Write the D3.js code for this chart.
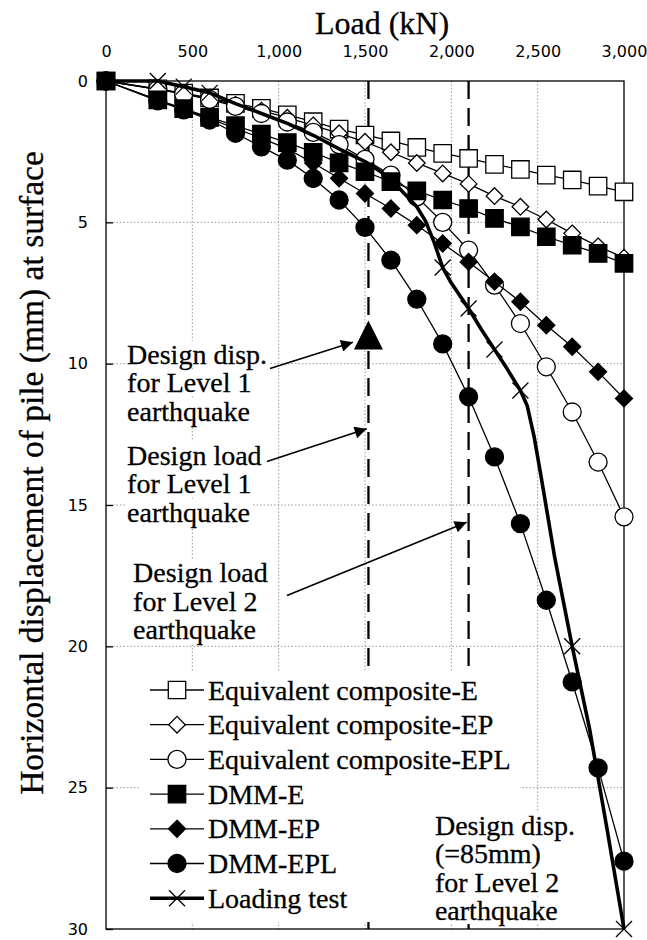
<!DOCTYPE html>
<html>
<head>
<meta charset="utf-8">
<script src="https://cdn.jsdelivr.net/npm/d3@7"></script>
<style>
  html, body { margin: 0; padding: 0; background: #fff; }
  svg { display: block; }
</style>
</head>
<body>
<svg id="chart" width="647" height="940"></svg>
<script>
// ---- data ---------------------------------------------------------------
// Load steps (kN) shared by all analysis series
const loadSteps = [0, 300, 450, 600, 750, 900, 1050, 1200, 1350, 1500, 1650, 1800, 1950, 2100, 2250, 2400, 2550, 2700, 2850, 3000];

// Horizontal displacement at surface (mm) for each analysis model
const eqCompE   = [0, 0.28, 0.43, 0.60, 0.79, 0.97, 1.20, 1.44, 1.70, 1.91, 2.12, 2.35, 2.56, 2.74, 2.95, 3.13, 3.33, 3.50, 3.72, 3.92];
const eqCompEP  = [0, 0.30, 0.45, 0.63, 0.84, 1.05, 1.30, 1.57, 1.85, 2.15, 2.52, 2.90, 3.27, 3.64, 4.07, 4.45, 4.90, 5.39, 5.85, 6.25];
const eqCompEPL = [0, 0.30, 0.46, 0.65, 0.90, 1.15, 1.45, 1.82, 2.25, 2.77, 3.33, 4.10, 5.00, 5.98, 7.22, 8.58, 10.11, 11.71, 13.48, 15.42];
const dmmE      = [0, 0.67, 0.98, 1.29, 1.58, 1.88, 2.18, 2.52, 2.90, 3.21, 3.56, 3.89, 4.21, 4.51, 4.86, 5.16, 5.51, 5.81, 6.10, 6.45];
const dmmEP     = [0, 0.68, 1.00, 1.33, 1.68, 2.02, 2.40, 2.90, 3.44, 3.98, 4.51, 5.10, 5.75, 6.40, 7.10, 7.81, 8.64, 9.40, 10.29, 11.23];
const dmmEPL    = [0, 0.70, 1.02, 1.38, 1.85, 2.33, 2.80, 3.45, 4.21, 5.18, 6.34, 7.72, 9.30, 11.17, 13.30, 15.66, 18.37, 21.26, 24.30, 27.60];

// Field loading test: measured curve and the loads carrying a marker
const testLoads = [0, 300, 450, 600, 750, 900, 1050, 1200, 1350, 1500, 1600, 1700, 1800, 1850, 1900, 1950, 2000, 2050, 2100, 2175, 2250, 2325, 2400, 2440, 2480, 2520, 2600, 2700, 2800, 2900, 3000];
const testDisp  = [0, 0, 0.20, 0.42, 0.80, 1.15, 1.50, 1.92, 2.40, 2.85, 3.25, 3.80, 4.45, 4.95, 5.70, 6.60, 7.15, 7.60, 8.05, 8.80, 9.50, 10.20, 10.95, 11.50, 12.60, 14.00, 16.90, 20.00, 22.90, 26.40, 30.00];
const testMarkerLoads = [300, 450, 600, 1950, 2100, 2250, 2400, 2700, 3000];

// Axis ticks
const xTicks = [0, 500, 1000, 1500, 2000, 2500, 3000];
const yTicks = [0, 5, 10, 15, 20, 25, 30];

// Design values
const designLoads = [1520, 2100];          // Level 1 and Level 2 design loads (kN)
const level1DispLoad = [1520];             // triangle marker position (kN)
const level1DispValue = [9.0];             // design displacement, Level 1 (mm)

// Series names in legend order
const seriesNames = ["Equivalent composite-E", "Equivalent composite-EP", "Equivalent composite-EPL", "DMM-E", "DMM-EP", "DMM-EPL", "Loading test"];

// ---- layout -------------------------------------------------------------
const svg = d3.select("#chart");
const x = d3.scaleLinear().domain([0, 3000]).range([106, 624]);
const y = d3.scaleLinear().domain([0, 30]).range([81, 929]);
const serif = "'Liberation Serif', 'Times New Roman', serif";
const sans = "'DejaVu Sans', sans-serif";

const gGrid = svg.append("g");
const gDash = svg.append("g");
const gBoxes = svg.append("g");
const gFrame = svg.append("g");
const gSeries = svg.append("g");
const gAnno = svg.append("g");

// Dotted grid
gGrid.selectAll("line.v").data(xTicks.slice(1, -1)).join("line")
  .attr("x1", d => x(d)).attr("x2", d => x(d))
  .attr("y1", y(0)).attr("y2", y(30))
  .attr("stroke", "#9a9a9a").attr("stroke-width", 1).attr("stroke-dasharray", "1.5,2");
gGrid.selectAll("line.h").data(yTicks.slice(1, -1)).join("line")
  .attr("x1", x(0)).attr("x2", x(3000))
  .attr("y1", d => y(d)).attr("y2", d => y(d))
  .attr("stroke", "#9a9a9a").attr("stroke-width", 1).attr("stroke-dasharray", "1.5,2");

// Design load lines
gDash.selectAll("line").data(designLoads).join("line")
  .attr("x1", d => x(d)).attr("x2", d => x(d))
  .attr("y1", y(0)).attr("y2", y(30))
  .attr("stroke", "#000").attr("stroke-width", 2.3).attr("stroke-dasharray", "18,9");

// Frame and axes
gFrame.append("rect")
  .attr("x", x(0)).attr("y", y(0))
  .attr("width", x(3000) - x(0)).attr("height", y(30) - y(0))
  .attr("fill", "none").attr("stroke", "#000").attr("stroke-width", 1.3);

const xAxis = gFrame.append("g").attr("transform", `translate(0,${y(0)})`)
  .call(d3.axisTop(x).tickValues(xTicks).tickFormat(d3.format(",")).tickSize(0).tickPadding(24));
const yAxis = gFrame.append("g").attr("transform", `translate(${x(0)},0)`)
  .call(d3.axisLeft(y).tickValues(yTicks).tickFormat(d3.format("d")).tickSize(-7).tickPadding(18));
[xAxis, yAxis].forEach(a => {
  a.select(".domain").remove();
  a.selectAll("text").attr("font-family", sans).attr("font-size", 16).attr("fill", "#000");
  a.selectAll("line").attr("stroke", "#000").attr("stroke-width", 1.3);
});

// Axis titles
const titleStyle = sel => sel.attr("font-family", serif).attr("fill", "#000")
  .attr("stroke", "#000").attr("stroke-width", 0.3);
svg.append("text").attr("x", 382).attr("y", 34).attr("text-anchor", "middle")
  .attr("font-size", 32).call(titleStyle).text("Load (kN)");
svg.append("text").attr("transform", "translate(43,473) rotate(-90)").attr("text-anchor", "middle")
  .attr("font-size", 33.5).call(titleStyle).text("Horizontal displacement of pile (mm) at surface");

// ---- markers ------------------------------------------------------------
function markerPath(type, r) {
  switch (type) {
    case "square": return `M${-r},${-r}H${r}V${r}H${-r}Z`;
    case "diamond": return `M0,${-r}L${r},0L0,${r}L${-r},0Z`;
    case "circle": return d3.symbol(d3.symbolCircle, Math.PI * r * r)();
    case "cross": return `M${-r},${-r}L${r},${r}M${-r},${r}L${r},${-r}`;
  }
}

const series = [
  { name: seriesNames[0], loads: loadSteps, values: eqCompE,   type: "square",  r: 8.7, fill: "#fff", width: 1.3 },
  { name: seriesNames[1], loads: loadSteps, values: eqCompEP,  type: "diamond", r: 8.3, fill: "#fff", width: 1.3 },
  { name: seriesNames[2], loads: loadSteps, values: eqCompEPL, type: "circle",  r: 9,   fill: "#fff", width: 1.3 },
  { name: seriesNames[3], loads: loadSteps, values: dmmE,      type: "square",  r: 8.7, fill: "#000", width: 1.3 },
  { name: seriesNames[4], loads: loadSteps, values: dmmEP,     type: "diamond", r: 8.5, fill: "#000", width: 1.3 },
  { name: seriesNames[5], loads: loadSteps, values: dmmEPL,    type: "circle",  r: 9,   fill: "#000", width: 1.3 },
  { name: seriesNames[6], loads: testLoads, values: testDisp,  type: "cross",   r: 8,   fill: "none", width: 3.6,
    markerLoads: testMarkerLoads }
];

const line = d3.line().x(d => x(d[0])).y(d => y(d[1]));

series.forEach(s => {
  const pts = s.loads.map((l, i) => [l, s.values[i]]);
  const g = gSeries.append("g");
  g.append("path").attr("d", line(pts)).attr("fill", "none")
    .attr("stroke", "#000").attr("stroke-width", s.width).attr("stroke-linejoin", "round");
  const marks = s.markerLoads ? pts.filter(p => s.markerLoads.includes(p[0])) : pts;
  g.selectAll("path.m").data(marks).join("path").attr("class", "m")
    .attr("transform", d => `translate(${x(d[0])},${y(d[1])})`)
    .attr("d", markerPath(s.type, s.r))
    .attr("fill", s.fill).attr("stroke", "#000").attr("stroke-width", 1.3);
});

// Level 1 design displacement marker
gSeries.selectAll("path.tri").data(level1DispLoad.map((l, i) => [l, level1DispValue[i]])).join("path")
  .attr("class", "tri")
  .attr("transform", d => `translate(${x(d[0])},${y(d[1])})`)
  .attr("d", "M0,-15L14.5,14L-14.5,14Z").attr("fill", "#000");

// ---- annotations --------------------------------------------------------
svg.append("defs").append("marker")
  .attr("id", "arrowhead").attr("viewBox", "0 0 10 10")
  .attr("refX", 10).attr("refY", 5)
  .attr("markerUnits", "userSpaceOnUse").attr("markerWidth", 16).attr("markerHeight", 12)
  .attr("orient", "auto")
  .append("path").attr("d", "M0,0L10,5L0,10Z").attr("fill", "#000");

// text blocks: left edge (kN), first baseline (mm), lines
const noteBlocks = [
  { load: 122, disp: 10.0,  lines: ["Design disp.", "for Level 1", "earthquake"] },
  { load: 122, disp: 13.57, lines: ["Design load", "for Level 1", "earthquake"] },
  { load: 157, disp: 17.73, lines: ["Design load", "for Level 2", "earthquake"] },
  { load: 1905, disp: 26.66, lines: ["Design disp.", "(=85mm)", "for Level 2", "earthquake"] }
];
const noteLineStep = 28.5;

function addBox(node, pad) {
  const b = node.getBBox();
  gBoxes.append("rect").attr("x", b.x - pad).attr("y", b.y + 2)
    .attr("width", b.width + 2 * pad).attr("height", b.height - 4).attr("fill", "#fff");
}

noteBlocks.forEach(bk => {
  bk.lines.forEach((t, i) => {
    const txt = gAnno.append("text")
      .attr("x", x(bk.load)).attr("y", y(bk.disp) + i * noteLineStep)
      .attr("font-size", 28).call(titleStyle).text(t);
    addBox(txt.node(), 2);
  });
});

// arrows: [from load, from disp, to load, to disp]
const arrows = [
  [950, 10.17, 1430, 9.24],
  [932, 13.46, 1510, 12.3],
  [1048, 18.2, 2089, 15.61]
];
gAnno.selectAll("line.arrow").data(arrows).join("line").attr("class", "arrow")
  .attr("x1", d => x(d[0])).attr("y1", d => y(d[1]))
  .attr("x2", d => x(d[2])).attr("y2", d => y(d[3]))
  .attr("stroke", "#000").attr("stroke-width", 1.6).attr("marker-end", "url(#arrowhead)");

// ---- legend -------------------------------------------------------------
const legendTop = 690, legendStep = 34.7;
gBoxes.append("rect").attr("x", 140).attr("y", 671).attr("width", 380).attr("height", 251).attr("fill", "#fff");
const lg = gAnno.append("g");
series.forEach((s, i) => {
  const cy = legendTop + i * legendStep;
  lg.append("line").attr("x1", 150).attr("x2", 204).attr("y1", cy).attr("y2", cy)
    .attr("stroke", "#000").attr("stroke-width", s.width);
  lg.append("path").attr("transform", `translate(177,${cy})`)
    .attr("d", markerPath(s.type, s.r))
    .attr("fill", s.fill).attr("stroke", "#000").attr("stroke-width", 1.3);
  lg.append("text").attr("x", 208).attr("y", cy + 9.5)
    .attr("font-size", 28).call(titleStyle).text(s.name);
});
</script>
</body>
</html>
